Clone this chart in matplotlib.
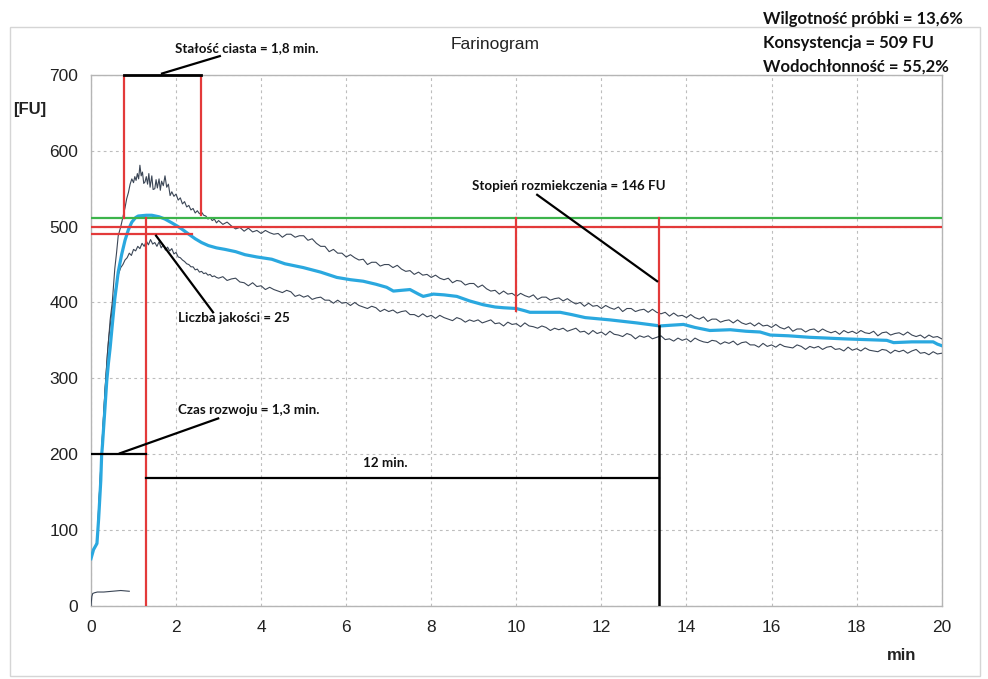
import numpy as np
import matplotlib
matplotlib.use("Agg")
import matplotlib.pyplot as plt
from matplotlib.patches import Rectangle

# ---------------- data ----------------
x_ticks = [0, 2, 4, 6, 8, 10, 12, 14, 16, 18, 20]
y_ticks = [0, 100, 200, 300, 400, 500, 600, 700]

# shared start of the two envelope curves
start_t = [0.0, 0.02, 0.04, 0.06, 0.09, 0.12, 0.15, 0.18, 0.21, 0.24, 0.27, 0.30, 0.33, 0.36, 0.39, 0.42]
start_v = [62, 66, 70, 74, 77, 80, 88, 130, 160, 195, 225, 255, 285, 310, 335, 355]

upper_early_t = [0.45, 0.50, 0.56, 0.60, 0.64, 0.70, 0.76, 0.80, 0.84, 0.88, 0.92, 0.96, 1.00, 1.03,
                 1.06, 1.09, 1.12, 1.15, 1.18, 1.21, 1.24, 1.27, 1.30, 1.33, 1.36, 1.39, 1.43, 1.46,
                 1.50, 1.53, 1.56, 1.60, 1.63, 1.66, 1.70, 1.74, 1.78, 1.82, 1.86, 1.90, 1.95, 2.00,
                 2.05, 2.10, 2.15, 2.20, 2.25, 2.30, 2.35, 2.40, 2.45, 2.50, 2.55, 2.60, 2.65, 2.70,
                 2.75, 2.80, 2.85, 2.90, 2.95]
upper_early_v = [377, 400, 445, 465, 488, 500, 515, 525, 537, 545, 556, 563, 558, 566,
                 561, 570, 563, 581, 567, 572, 557, 559, 566, 556, 570, 552, 567, 549,
                 550, 562, 551, 563, 548, 560, 554, 567, 552, 556, 541, 546, 540, 543,
                 535, 538, 530, 533, 526, 528, 522, 524, 518, 521, 517, 519, 515, 514,
                 510, 512, 508, 510, 505]

lower_early_t = [0.45, 0.50, 0.55, 0.60, 0.65, 0.70, 0.75, 0.80, 0.85, 0.90, 0.95, 1.00, 1.05,
                 1.10, 1.15, 1.20, 1.25, 1.30, 1.35, 1.40, 1.45, 1.50, 1.55, 1.60, 1.65, 1.70,
                 1.75, 1.80, 1.85, 1.90, 1.95, 2.00, 2.05, 2.10, 2.15, 2.20, 2.25, 2.30, 2.35,
                 2.40, 2.45, 2.50, 2.55, 2.60, 2.65, 2.70, 2.75, 2.80, 2.85, 2.90, 2.95]
lower_early_v = [368, 392, 410, 426, 438, 446, 450, 456, 459, 465, 462, 470, 468,
                 474, 471, 478, 474, 481, 476, 483, 477, 479, 474, 480, 472, 476,
                 469, 473, 468, 471, 464, 466, 460, 459, 456, 454, 451, 450, 447,
                 447, 443, 444, 440, 441, 438, 439, 436, 437, 434, 435, 433]

# late part, sampled every 0.1 min from 3.0 to 20.0
late_t = [round(3.0 + 0.1 * i, 1) for i in range(171)]
upper_late_v = [
    508, 503, 506, 501, 497, 499, 494, 498, 493, 495,
    491, 495, 492, 490, 491, 486, 490, 490, 486, 488,
    488, 482, 484, 478, 474, 474, 467, 470, 465, 465,
    460, 463, 459, 456, 457, 450, 453, 453, 448, 450,
    450, 446, 449, 444, 441, 442, 437, 440, 436, 437,
    433, 436, 432, 430, 432, 426, 429, 428, 423, 425,
    425, 420, 423, 418, 415, 416, 411, 415, 411, 412,
    408, 412, 409, 407, 410, 404, 407, 407, 403, 405,
    406, 402, 405, 401, 398, 400, 395, 399, 395, 396,
    392, 396, 393, 391, 394, 388, 392, 392, 388, 390,
    391, 387, 391, 387, 385, 387, 382, 386, 382, 383,
    380, 384, 380, 378, 381, 375, 378, 378, 374, 376,
    377, 373, 377, 373, 371, 373, 369, 373, 369, 370,
    367, 371, 367, 365, 368, 362, 365, 365, 361, 364,
    365, 361, 365, 362, 360, 362, 358, 363, 360, 362,
    359, 363, 360, 359, 362, 356, 360, 361, 357, 359,
    360, 357, 361, 357, 355, 357, 353, 357, 354, 355,
    352]
lower_late_v = [
    432, 434, 429, 431, 432, 427, 426, 422, 426, 421,
    422, 417, 420, 417, 415, 413, 416, 414, 408, 410,
    407, 409, 404, 406, 407, 403, 403, 399, 403, 399,
    400, 396, 400, 396, 394, 392, 395, 393, 388, 391,
    388, 390, 386, 388, 389, 384, 384, 381, 385, 381,
    383, 379, 383, 380, 378, 376, 380, 378, 374, 377,
    375, 377, 373, 375, 377, 372, 373, 369, 374, 371,
    372, 368, 373, 369, 368, 366, 369, 367, 363, 366,
    364, 366, 362, 364, 366, 361, 362, 358, 363, 359,
    361, 357, 362, 358, 357, 355, 359, 357, 352, 356,
    354, 356, 352, 354, 356, 351, 352, 349, 353, 350,
    352, 348, 353, 350, 348, 347, 350, 349, 345, 348,
    346, 349, 344, 347, 348, 344, 344, 341, 346, 342,
    344, 341, 345, 342, 341, 340, 344, 342, 338, 342,
    340, 342, 338, 341, 342, 338, 339, 336, 341, 337,
    339, 336, 340, 337, 336, 335, 338, 337, 333, 337,
    335, 337, 333, 336, 338, 333, 334, 331, 335, 332,
    333]

mean_t = [0.0, 0.03, 0.06, 0.10, 0.14, 0.18, 0.21, 0.23, 0.25, 0.27, 0.29, 0.33, 0.37, 0.41, 0.45,
          0.50, 0.56, 0.64, 0.72, 0.80, 0.88, 0.96, 1.05, 1.11, 1.30, 1.43, 1.60, 1.74, 1.90, 2.05,
          2.13, 2.30, 2.45, 2.60, 2.76, 2.95, 3.15, 3.40, 3.62, 3.90, 4.25, 4.56, 4.99, 5.40, 5.78,
          6.10, 6.40, 6.70, 6.95, 7.11, 7.30, 7.50, 7.70, 7.81, 8.05, 8.30, 8.60, 8.90, 9.22, 9.50,
          9.70, 10.0, 10.2, 10.32, 11.03, 11.3, 11.62, 12.2, 12.83, 13.38, 13.65, 13.93, 14.2, 14.55,
          15.03, 15.4, 15.73, 15.97, 16.4, 16.9, 17.3, 17.69, 18.2, 18.71, 18.87, 19.3, 19.8, 19.9, 20.0]
mean_v = [62, 68, 74, 78, 82, 115, 145, 165, 198, 212, 229, 262, 296, 320, 340,
          370, 405, 440, 463, 482, 496, 506, 512, 514, 515, 515, 513, 510, 505, 500,
          497, 490, 484, 479, 475, 472, 470, 467, 463, 460, 457, 451, 446, 440, 433,
          430, 428, 424, 420, 415, 416, 417, 411, 408, 411, 410, 408, 402, 397, 394,
          393, 392, 389, 387, 387, 384, 380, 377, 373, 369, 370, 371, 367, 363,
          364, 362, 361, 357, 356, 354, 353, 352, 351, 350, 347, 348, 348, 345, 343]

small_t = [0.0, 0.02, 0.04, 0.08, 0.15, 0.3, 0.5, 0.7, 0.9]
small_v = [0, 12, 16, 17, 18, 18, 19, 20, 19]

# annotation values
consistency_line = 512
line_500 = 500
line_490 = 490
stab_start, stab_end = 0.78, 2.58
dev_time = 1.29
soft_t1, soft_t2 = 10.0, 13.35
soft_low1, soft_low2 = 389, 369
level_200 = 200
level_12min = 168

# ---------------- plot ----------------
plt.rcParams['font.family'] = ['Liberation Sans', 'DejaVu Sans']
fig = plt.figure(figsize=(9.88, 6.79), dpi=100)
ax = fig.add_axes([0.0921, 0.108, 0.861, 0.7815])

C_DARK = '#3b4656'
C_BLUE = '#2aa8df'
C_RED = '#e33a3a'
C_GREEN = '#3cb44b'

upper_t = start_t + upper_early_t + late_t
upper_v = start_v + upper_early_v + upper_late_v
lower_t = start_t + lower_early_t + late_t
lower_v = start_v + lower_early_v + lower_late_v

ax.plot(upper_t, upper_v, color=C_DARK, lw=0.8, zorder=3)
ax.plot(lower_t, lower_v, color=C_DARK, lw=0.8, zorder=3)
ax.plot(small_t, small_v, color=C_DARK, lw=0.8, zorder=3)
ax.plot(mean_t, mean_v, color=C_BLUE, lw=2.3, zorder=4, solid_joinstyle='round')

# horizontal reference lines
ax.plot([0, 20], [consistency_line, consistency_line], color=C_GREEN, lw=1.6, zorder=5)
ax.plot([0, 20], [line_500, line_500], color=C_RED, lw=1.6, zorder=5)
ax.plot([0, 2.38], [line_490, line_490], color=C_RED, lw=1.6, zorder=5)

# stability
ax.plot([stab_start, stab_start], [700, consistency_line], color=C_RED, lw=1.6, zorder=5)
ax.plot([stab_end, stab_end], [700, consistency_line + 4], color=C_RED, lw=1.6, zorder=5)
ax.plot([stab_start, stab_end], [700, 700], color='black', lw=2.0, zorder=6, clip_on=False)
ax.plot([1.67, 3.03], [702, 725], color='black', lw=1.6, zorder=6, clip_on=False)

# development time
ax.plot([dev_time, dev_time], [consistency_line, 0], color=C_RED, lw=1.6, zorder=5)
ax.plot([0, dev_time], [level_200, level_200], color='black', lw=1.6, zorder=6)
ax.plot([0.68, 2.99], [201, 247], color='black', lw=1.6, zorder=6)

# 12 min
ax.plot([dev_time, soft_t2], [level_12min, level_12min], color='black', lw=1.6, zorder=6)
ax.plot([soft_t2, soft_t2], [soft_low2, 0], color='black', lw=1.8, zorder=6)

# softening
ax.plot([soft_t1, soft_t1], [consistency_line, soft_low1], color=C_RED, lw=1.6, zorder=5)
ax.plot([soft_t2, soft_t2], [consistency_line, soft_low2], color=C_RED, lw=1.6, zorder=5)
ax.plot([10.49, 13.31], [542, 428], color='black', lw=1.6, zorder=6)

# quality number
ax.plot([1.53, 2.87], [488, 387], color='black', lw=1.6, zorder=6)

ann_kw = dict(fontsize=9.6, fontweight='bold', family=['Lato', 'DejaVu Sans'],
              ha='center', va='center', color='#111111')
ax.text(3.67, 735, 'Stałość ciasta = 1,8 min.', clip_on=False, **ann_kw)
ax.text(11.24, 553, 'Stopień rozmiekczenia = 146 FU', **ann_kw)
ax.text(3.36, 379, 'Liczba jakości = 25', **ann_kw)
ax.text(3.71, 258, 'Czas rozwoju = 1,3 min.', **ann_kw)
ax.text(6.91, 188, '12 min.', **ann_kw)

# axes styling
ax.set_xlim(0, 20)
ax.set_ylim(0, 700)
ax.set_xticks(x_ticks)
ax.set_yticks(y_ticks)
ax.tick_params(length=0, labelsize=12.5, colors='#222222')
ax.tick_params(axis='y', pad=9)
ax.tick_params(axis='x', pad=10)
ax.grid(True, color='#bdbdbd', linestyle=(0, (2.5, 3)), lw=0.8, zorder=0)
for sp in ax.spines.values():
    sp.set_color('#b5b5b5')
    sp.set_linewidth(1.0)

fig.text(0.501, 0.934, 'Farinogram', ha='center', va='center', fontsize=12.5, color='#222222')
fig.text(0.0304, 0.838, '[FU]', ha='center', va='center', fontsize=12, fontweight='bold', color='#222222')
fig.text(0.913, 0.0353, 'min', ha='center', va='center', fontsize=12, fontweight='bold', color='#222222')

tr_kw = dict(fontsize=12, fontweight='bold', family=['Lato', 'DejaVu Sans'],
             ha='left', va='center', color='#111111')
fig.text(0.772, 0.972, 'Wilgotność próbki = 13,6%', **tr_kw)
fig.text(0.772, 0.936, 'Konsystencja = 509 FU', **tr_kw)
fig.text(0.772, 0.902, 'Wodochłonność = 55,2%', **tr_kw)

fig.patches.append(Rectangle((0.0101, 0.0044), 0.9818, 0.9558, transform=fig.transFigure,
                             fill=False, edgecolor='#d5d5d5', lw=1.0, zorder=0))

fig.savefig('out.png', dpi=100)
